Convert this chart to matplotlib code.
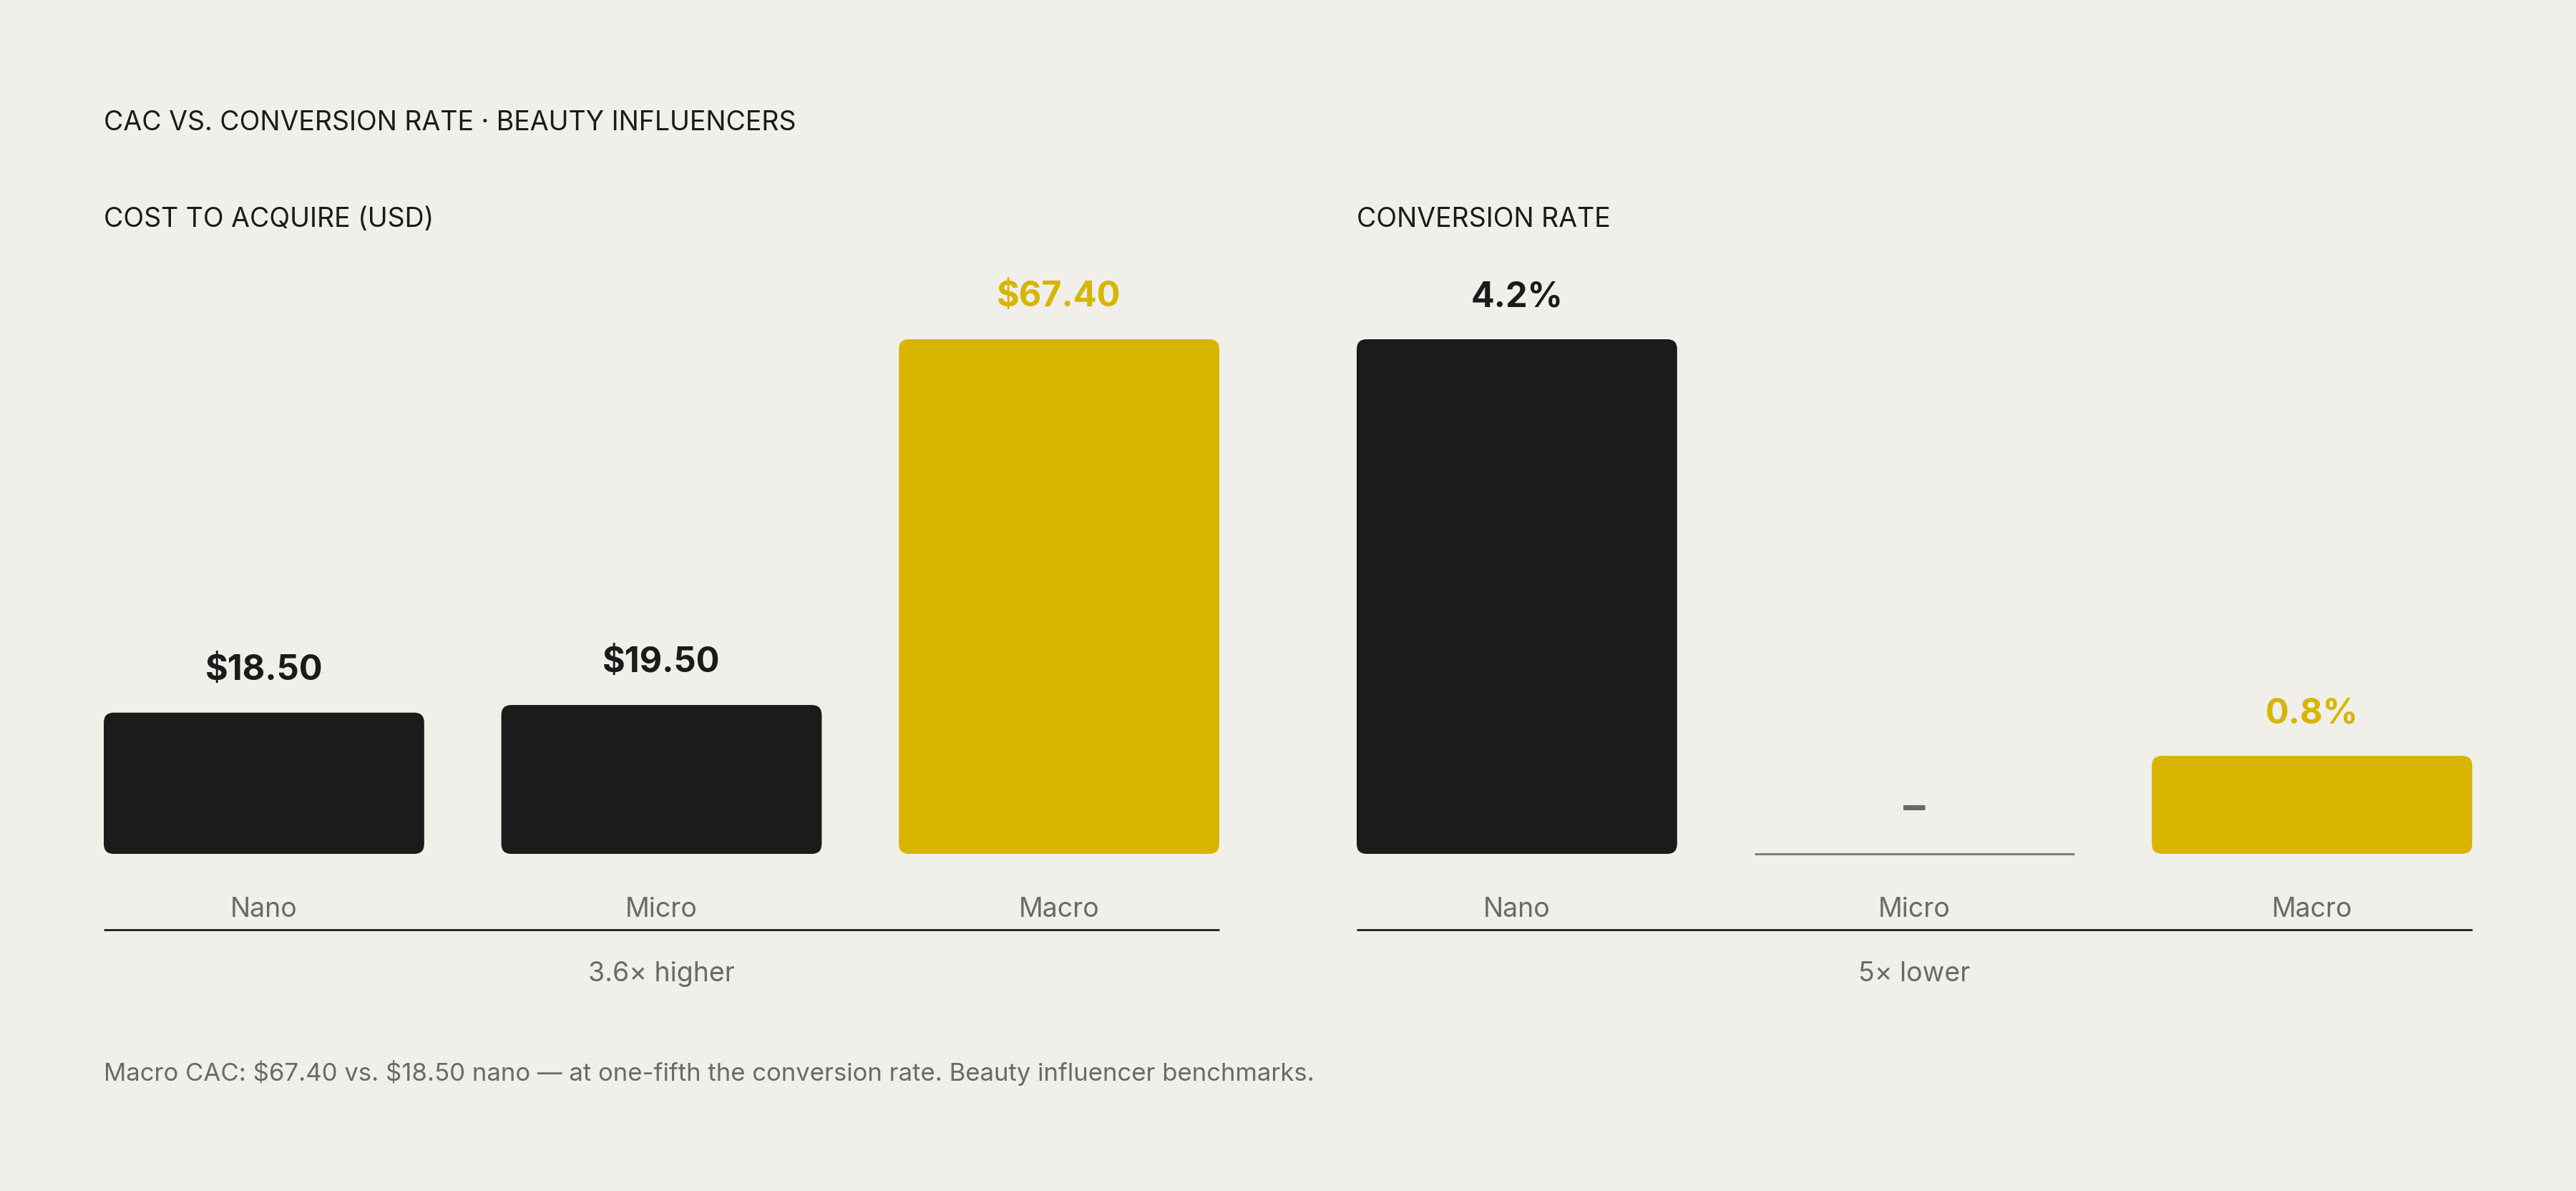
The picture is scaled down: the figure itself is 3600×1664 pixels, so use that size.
import matplotlib.pyplot as plt
from matplotlib.patches import FancyBboxPatch
import matplotlib.transforms as mtransforms

plt.rcParams['font.family'] = ['Inter', 'DejaVu Sans']

# data
tiers = ['Nano', 'Micro', 'Macro']
cac_usd = [18.50, 19.50, 67.40]
conv_rate = [4.2, None, 0.8]   # micro has no value
cac_labels = ['\\$18.50', '\\$19.50', '\\$67.40']
conv_labels = ['4.2%', '–', '0.8%']

BG = '#f0efea'
DARK = '#1b1b1b'
GOLD = '#d8b500'
GRAY = '#6b6b66'

W, H = 3600, 1665
fig = plt.figure(figsize=(W / 100, H / 100), dpi=100, facecolor=BG)

bar_w = 0.806
xlo, xhi = -bar_w / 2, 2 + bar_w / 2
ax_bottom, ax_h = 471 / H, 719 / H
ax1 = fig.add_axes([145 / W, ax_bottom, 1559 / W, ax_h])
ax2 = fig.add_axes([1896 / W, ax_bottom, 1559 / W, ax_h])


def rounded_bars(ax, vals, colors, ymax):
    ax.set_xlim(xlo, xhi)
    ax.set_ylim(0, ymax)
    xs = [i for i, v in enumerate(vals) if v is not None]
    hs = [vals[i] for i in xs]
    bars = ax.bar(xs, hs, width=bar_w, color=[colors[i] for i in xs])
    px_x = 1559 / (xhi - xlo)
    px_y = 719 / ymax
    r = 14 / px_x
    for b in bars:
        x, y = b.get_x(), b.get_y()
        w, h = b.get_width(), b.get_height()
        fc = b.get_facecolor()
        b.remove()
        ax.add_patch(FancyBboxPatch((x, y), w, h,
                                    boxstyle=f"round,pad=0,rounding_size={r}",
                                    mutation_aspect=px_x / px_y,
                                    fc=fc, ec='none', clip_on=False))
    ax.axis('off')
    ax.patch.set_alpha(0)


cac_colors = [DARK, DARK, GOLD]
conv_colors = [DARK, GRAY, GOLD]
rounded_bars(ax1, cac_usd, cac_colors, max(cac_usd))
rounded_bars(ax2, conv_rate, conv_colors, max(v for v in conv_rate if v is not None))

# value labels
for i, v in enumerate(cac_usd):
    ax1.annotate(cac_labels[i], (i, v), xytext=(0, 43), textcoords='offset points',
                 ha='center', va='center', fontsize=35, fontweight='bold',
                 color=cac_colors[i], annotation_clip=False)
for i, v in enumerate(conv_rate):
    if v is None:
        ax2.plot([i - bar_w / 2, i + bar_w / 2], [0, 0], color='#77776f', lw=2,
                 solid_capstyle='butt', clip_on=False)
        ax2.annotate(conv_labels[i], (i, 0), xytext=(0, 45), textcoords='offset points',
                     ha='center', va='center', fontsize=44, fontweight='bold',
                     color=GRAY, annotation_clip=False)
    else:
        ax2.annotate(conv_labels[i], (i, v), xytext=(0, 43), textcoords='offset points',
                     ha='center', va='center', fontsize=35, fontweight='bold',
                     color=conv_colors[i], annotation_clip=False)

# category labels, baseline rule, notes
notes = ['3.6× higher', '5× lower']
for ax, note in zip([ax1, ax2], notes):
    tr = mtransforms.blended_transform_factory(ax.transData, fig.transFigure)
    for i, t in enumerate(tiers):
        ax.text(i, 1 - 1271 / H, t, transform=tr, ha='center', va='center',
                fontsize=27, color=GRAY)
    ax.plot([xlo, xhi], [1 - 1300 / H] * 2, transform=tr, color=DARK, lw=2,
            clip_on=False, solid_capstyle='butt')
    ax.text(1, 1 - 1361 / H, note, transform=tr, ha='center', va='center',
            fontsize=27, color=GRAY)

fig.text(145 / W, 1 - 172 / H, 'CAC VS. CONVERSION RATE · BEAUTY INFLUENCERS',
         ha='left', va='center', fontsize=27, color=DARK)
fig.text(145 / W, 1 - 307 / H, 'COST TO ACQUIRE (USD)',
         ha='left', va='center', fontsize=27, color=DARK)
fig.text(1896 / W, 1 - 307 / H, 'CONVERSION RATE',
         ha='left', va='center', fontsize=27, color=DARK)
fig.text(145 / W, 1 - 1499 / H,
         'Macro CAC: \\$67.40 vs. \\$18.50 nano — at one-fifth the conversion rate. Beauty influencer benchmarks.',
         ha='left', va='center', fontsize=25, color=GRAY)

fig.savefig('out.png', dpi=100, facecolor=BG)
